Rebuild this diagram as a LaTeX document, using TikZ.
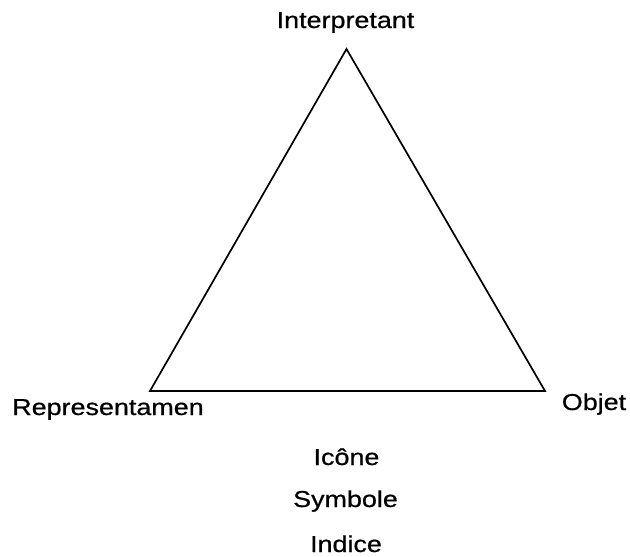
\documentclass[tikz,border=0pt]{standalone}
\usepackage{fontspec}
\setmainfont{Liberation Sans}
\newfontfamily\lblfont[FakeBold=0.6]{Liberation Sans}
\begin{document}
\begin{tikzpicture}[x=1pt,y=-1pt,
  lbl/.style={inner sep=0pt, anchor=base, font=\lblfont\fontsize{23}{26}\selectfont},
  tri/.style={draw=black, line width=1.7pt, line join=miter}]
\useasboundingbox[fill=white] (0,0) rectangle (630,557);
\coordinate (I) at (346.5,49);
\coordinate (R) at (150,391);
\coordinate (O) at (545,391);
\draw[tri] (I) -- (R) -- (O) -- cycle;
\node[lbl] (interp) at (345.5,28) {\scalebox{1.17}[1]{Interpretant}};
\node[lbl] (repr) at (108,415) {\scalebox{1.17}[1]{Representamen}};
\node[lbl] (objet) at (594,410) {\scalebox{1.17}[1]{Objet}};
\node[lbl] (icone) at (346.5,465) {\scalebox{1.17}[1]{Icône}};
\node[lbl] (symb) at (345.5,507) {\scalebox{1.17}[1]{Symbole}};
\node[lbl] (indice) at (346,552) {\scalebox{1.17}[1]{Indice}};
\end{tikzpicture}
\end{document}
